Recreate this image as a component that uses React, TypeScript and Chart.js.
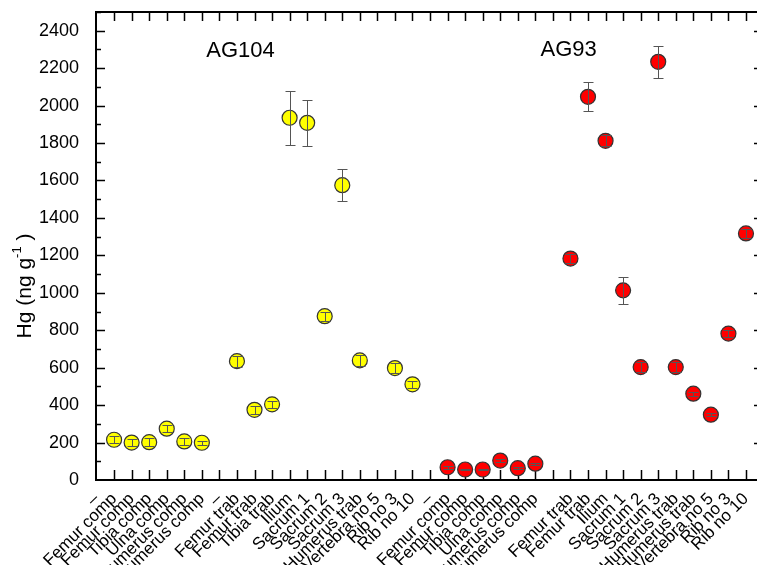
import React, { useEffect, useRef } from 'react';
import { Chart, registerables } from 'chart.js';
Chart.register(...registerables);

const FONT = "'Liberation Sans', Arial, sans-serif";

const categories = [
  '–', 'Femur comp', 'Femur comp', 'Tibia comp', 'Ulna comp', 'Humerus comp', 'Humerus comp',
  '–', 'Femur trab', 'Femur trab', 'Tibia trab', 'Ilium', 'Sacrum 1', 'Sacrum 2', 'Sacrum 3',
  'Humerus trab', 'Vertebra no 5', 'Rib no 3', 'Rib no 10',
  '–', 'Femur comp', 'Femur comp', 'Tibia comp', 'Ulna comp', 'Humerus comp', 'Humerus comp',
  '', 'Femur trab', 'Femur trab', 'Ilium', 'Sacrum 1', 'Sacrum 2', 'Sacrum 3',
  'Humerus trab', 'Humerus trab', 'Vertebra no 5', 'Rib no 3', 'Rib no 10',
];

// AG104 occupies category positions 0..18
const ag104Values = [null, 215, 200, 202, 274, 206, 199, null, 635, 375, 404, 1935, 1908, 875, 1575, 639, null, 598, 511];
const ag104Errors = [null, 20, 20, 20, 20, 18, 10, null, 30, 20, 20, 143, 123, 25, 85, 30, null, 25, 20];
// AG93 occupies category positions 19..37
const ag93Values = [null, 68, 56, 56, 104, 63, 87, null, 1183, 2047, 1812, 1013, 603, 2234, 603, 461, 349, 782, 1317];
const ag93Errors = [null, 8, 5, 5, 8, 5, 5, null, 25, 78, 30, 71, 25, 85, 25, 10, 8, 20, 22];
const ag93Offset = 19;

const yTicks = [0, 200, 400, 600, 800, 1000, 1200, 1400, 1600, 1800, 2000, 2200, 2400];
const groupLabels = ['AG104', 'AG93'];

function toPoints(values: (number | null)[], errors: (number | null)[], offset: number) {
  const pts: any[] = [];
  values.forEach((v, i) => {
    if (v !== null) pts.push({ x: i + offset, y: v, err: errors[i] });
  });
  return pts;
}

const decorPlugin = {
  id: 'decor',
  beforeDatasetsDraw(chart: any) {
    const { ctx, chartArea: a, scales } = chart;
    const xs = scales.x, ys = scales.y;
    ctx.save();
    ctx.strokeStyle = '#000';
    ctx.lineWidth = 1.5;
    ctx.beginPath();
    for (let i = 1; i < categories.length; i++) {
      const px = Math.round(xs.getPixelForValue(i)) + 0.5;
      ctx.moveTo(px, a.bottom); ctx.lineTo(px, a.bottom - 10);
      ctx.moveTo(px, a.top); ctx.lineTo(px, a.top + 9);
    }
    for (let v = 100; v <= 2500; v += 100) {
      const py = Math.round(ys.getPixelForValue(v)) + 0.5;
      const len = v % 200 === 0 ? 9 : 5;
      ctx.moveTo(a.left, py); ctx.lineTo(a.left + len, py);
      ctx.moveTo(a.right, py); ctx.lineTo(a.right - len, py);
    }
    ctx.stroke();
    ctx.lineWidth = 2;
    ctx.strokeRect(a.left, a.top, a.right - a.left, a.bottom - a.top);
    ctx.fillStyle = '#000';
    ctx.font = `22px ${FONT}`;
    ctx.textAlign = 'center';
    ctx.textBaseline = 'middle';
    ctx.fillText(groupLabels[0], xs.getPixelForValue(8.2), 51);
    ctx.fillText(groupLabels[1], xs.getPixelForValue(26.9), 50);
    ctx.translate(25, 286);
    ctx.rotate(-Math.PI / 2);
    ctx.font = `21px ${FONT}`;
    const main = 'Hg (ng g';
    const sup = '-1';
    const close = ' )';
    const wMain = ctx.measureText(main).width;
    ctx.font = `13px ${FONT}`;
    const wSup = ctx.measureText(sup).width;
    ctx.font = `21px ${FONT}`;
    const wClose = ctx.measureText(close).width;
    const total = wMain + wSup + wClose;
    const x0 = -total / 2;
    ctx.textAlign = 'left';
    ctx.textBaseline = 'middle';
    ctx.fillText(main, x0, 0);
    ctx.font = `13px ${FONT}`;
    ctx.fillText(sup, x0 + wMain, -8);
    ctx.font = `21px ${FONT}`;
    ctx.fillText(close, x0 + wMain + wSup, 0);
    ctx.restore();
  },
  afterDatasetsDraw(chart: any) {
    const { ctx, scales } = chart;
    const xs = scales.x, ys = scales.y;
    ctx.save();
    ctx.strokeStyle = '#555';
    ctx.lineWidth = 1;
    chart.data.datasets.forEach((ds: any) => {
      ds.data.forEach((p: any) => {
        if (!p.err) return;
        const px = Math.round(xs.getPixelForValue(p.x)) + 0.5;
        const y1 = Math.round(ys.getPixelForValue(p.y + p.err)) + 0.5;
        const y2 = Math.round(ys.getPixelForValue(p.y - p.err)) + 0.5;
        ctx.beginPath();
        ctx.moveTo(px, y1); ctx.lineTo(px, y2);
        ctx.moveTo(px - 5, y1); ctx.lineTo(px + 5, y1);
        ctx.moveTo(px - 5, y2); ctx.lineTo(px + 5, y2);
        ctx.stroke();
      });
    });
    ctx.restore();
  },
};

export default function App() {
  const ref = useRef<HTMLCanvasElement>(null);
  useEffect(() => {
    if (!ref.current) return;
    const chart = new Chart(ref.current, {
      type: 'scatter',
      data: {
        datasets: [
          {
            label: 'AG104',
            data: toPoints(ag104Values, ag104Errors, 0),
            backgroundColor: '#ffff00',
            borderColor: '#333',
            borderWidth: 1.2,
            pointRadius: 7.5,
          },
          {
            label: 'AG93',
            data: toPoints(ag93Values, ag93Errors, ag93Offset),
            backgroundColor: '#ff0000',
            borderColor: '#333',
            borderWidth: 1.2,
            pointRadius: 7.5,
          },
        ],
      },
      options: {
        responsive: false,
        animation: false,
        layout: { padding: { left: 0, top: 12, right: 12, bottom: 0 } },
        plugins: { legend: { display: false }, tooltip: { enabled: false } },
        scales: {
          x: {
            type: 'linear',
            min: -0.03,
            max: 37.97,
            grid: { display: false },
            border: { display: false },
            afterFit: (s: any) => { s.height = 85; s.paddingLeft = 0; s.paddingRight = 0; },
            afterBuildTicks: (s: any) => { s.ticks = categories.map((_, i) => ({ value: i })); },
            ticks: {
              autoSkip: false,
              minRotation: 45,
              maxRotation: 45,
              padding: 1,
              color: '#000',
              font: { family: FONT, size: 17 },
              callback: (v: any) => categories[Math.round(v)] ?? '',
            },
          },
          y: {
            min: 0,
            max: 2500,
            grid: { display: false },
            border: { display: false },
            afterFit: (s: any) => { s.width = 96; s.paddingTop = 0; s.paddingBottom = 0; },
            afterBuildTicks: (s: any) => { s.ticks = yTicks.map((v) => ({ value: v })); },
            ticks: {
              padding: 9,
              color: '#000',
              font: { family: FONT, size: 18 },
              callback: (v: any) => String(v),
            },
          },
        },
      },
      plugins: [decorPlugin],
    });
    return () => chart.destroy();
  }, []);
  return (
    <div style={{ position: 'fixed', left: 0, top: 0, width: 757, height: 565, overflow: 'hidden', background: '#fff' }}>
      <canvas ref={ref} width={775} height={565} style={{ display: 'block' }} />
    </div>
  );
}
